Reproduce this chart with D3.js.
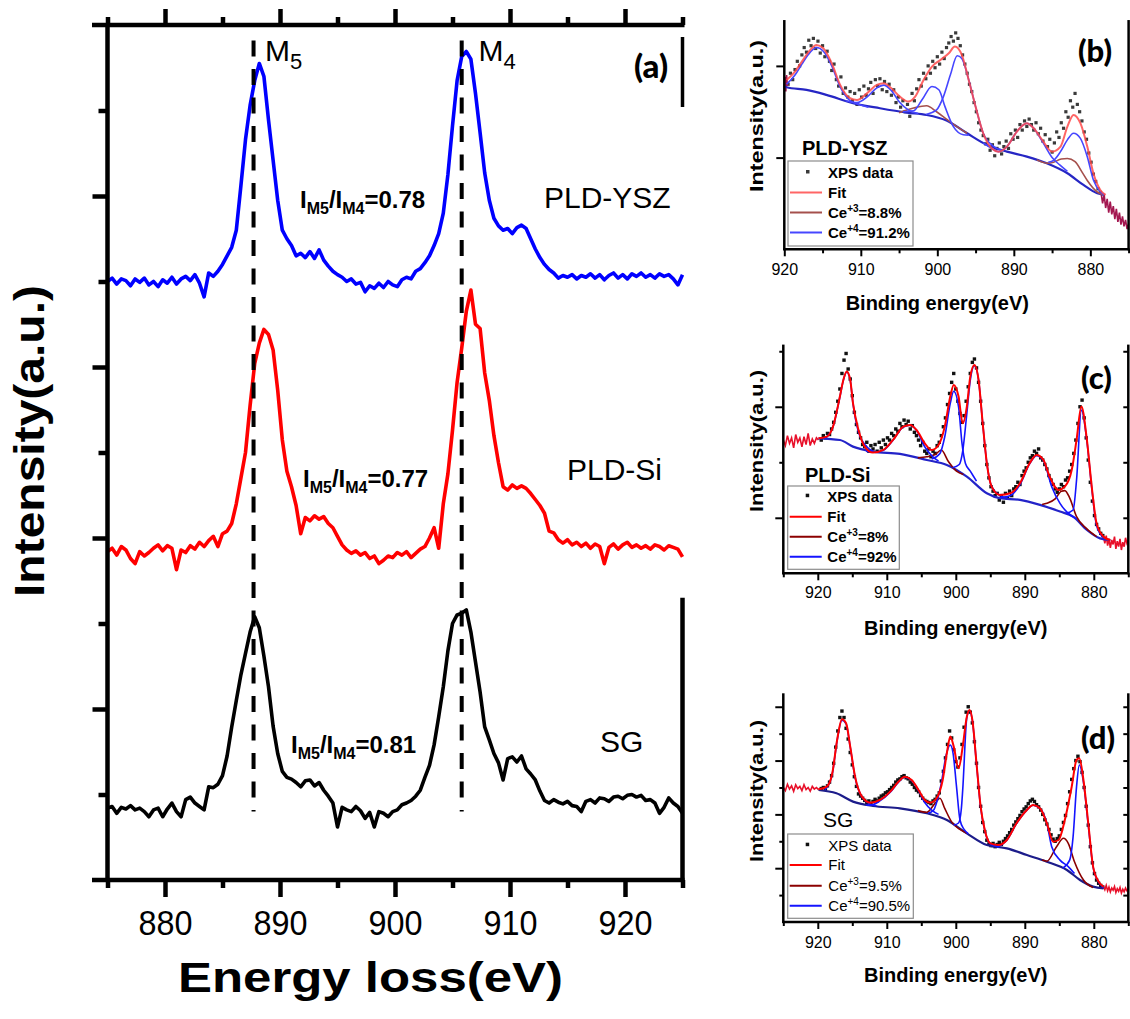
<!DOCTYPE html>
<html><head><meta charset="utf-8">
<script src="https://cdn.jsdelivr.net/npm/d3@7"></script>
<style>body{margin:0;background:#fff}svg{display:block}</style>
</head><body>
<svg id="c" width="1130" height="1019"></svg>
<script>
// ================= DATA =================
// Panel (a): EELS Ce M4,5 edges
const eelsEnergy = [875,875.4,875.8,876.2,876.6,877,877.4,877.8,878.2,878.6,879,879.4,879.8,880.2,880.6,881,881.4,881.8,882.2,882.6,883,883.4,883.8,884.2,884.6,885,885.4,885.8,886.2,886.6,887,887.4,887.8,888.2,888.6,889,889.4,889.8,890.2,890.6,891,891.4,891.8,892.2,892.6,893,893.4,893.8,894.2,894.6,895,895.4,895.8,896.2,896.6,897,897.4,897.8,898.2,898.6,899,899.4,899.8,900.2,900.6,901,901.4,901.8,902.2,902.6,903,903.4,903.8,904.2,904.6,905,905.4,905.8,906.2,906.6,907,907.4,907.8,908.2,908.6,909,909.4,909.8,910.2,910.6,911,911.4,911.8,912.2,912.6,913,913.4,913.8,914.2,914.6,915,915.4,915.8,916.2,916.6,917,917.4,917.8,918.2,918.6,919,919.4,919.8,920.2,920.6,921,921.4,921.8,922.2,922.6,923,923.4,923.8,924.2,924.6,925];
const eelsYSZ = [7.00,7.04,6.97,7.03,7.01,6.95,7.03,6.99,7.04,6.96,
7.00,6.94,7.02,6.98,7.05,6.97,7.03,7.06,7.01,7.08,
6.98,6.82,7.10,7.06,7.12,7.20,7.30,7.40,7.60,8.12,
8.66,9.06,9.35,9.55,9.40,8.89,8.42,7.95,7.60,7.50,
7.42,7.30,7.33,7.28,7.35,7.27,7.37,7.25,7.18,7.12,
7.08,7.05,7.00,7.03,6.97,6.99,6.88,6.95,6.92,6.98,
6.93,7.00,6.96,6.94,7.02,7.05,7.03,7.12,7.15,7.22,
7.30,7.42,7.56,7.80,8.25,8.82,9.35,9.63,9.69,9.60,
9.20,8.74,8.27,7.95,7.74,7.65,7.60,7.62,7.56,7.63,
7.66,7.62,7.50,7.38,7.28,7.20,7.14,7.10,7.04,7.07,
7.05,7.08,7.03,7.07,7.05,7.09,7.04,7.08,7.02,7.07,
7.10,7.04,7.08,7.03,7.09,7.06,7.10,7.05,7.08,7.04,
7.09,7.06,7.08,7.03,6.96,7.08];
const eelsSi = [3.84,3.88,3.80,3.90,3.86,3.76,3.70,3.84,3.79,3.83,
3.88,3.92,3.85,3.91,3.88,3.63,3.86,3.83,3.91,3.87,
3.95,3.90,3.97,4.02,3.90,4.05,4.08,4.17,4.40,4.70,
5.00,5.55,6.04,6.28,6.44,6.38,6.20,5.73,5.15,4.78,
4.60,4.38,4.05,4.24,4.20,4.26,4.22,4.25,4.17,4.12,
4.02,3.92,3.86,3.82,3.85,3.80,3.83,3.76,3.79,3.70,
3.74,3.79,3.77,3.83,3.80,3.84,3.77,3.82,3.87,3.90,
4.00,4.12,3.88,4.40,4.75,5.26,5.82,6.22,6.65,6.90,
6.50,6.45,5.93,5.61,5.20,4.88,4.60,4.56,4.62,4.58,
4.61,4.58,4.52,4.45,4.38,4.29,4.08,4.06,3.98,3.94,
3.98,3.92,3.95,3.90,3.94,3.88,3.93,3.90,3.70,3.89,
3.93,3.87,3.92,3.95,3.89,3.92,3.88,3.91,3.87,3.92,
3.90,3.86,3.91,3.89,3.87,3.78];
const eelsSG = [0.84,0.86,0.78,0.85,0.83,0.87,0.82,0.84,0.80,0.74,
0.82,0.84,0.74,0.83,0.90,0.80,0.74,0.94,0.97,0.90,
0.86,0.82,1.09,1.08,1.12,1.22,1.45,1.79,2.10,2.40,
2.65,2.90,3.08,2.95,2.62,2.26,1.80,1.48,1.27,1.20,
1.18,1.14,1.09,1.16,1.17,1.10,1.14,1.05,0.98,0.90,
0.62,0.85,0.82,0.80,0.86,0.81,0.72,0.79,0.62,0.80,
0.78,0.74,0.80,0.82,0.88,0.90,0.93,0.98,1.05,1.20,
1.34,1.58,1.91,2.26,2.68,3.00,3.10,3.12,3.16,2.90,
2.55,2.20,1.79,1.64,1.48,1.37,1.17,1.42,1.44,1.38,
1.45,1.30,1.24,1.17,1.04,0.93,0.90,0.94,0.91,0.89,
0.92,0.87,0.86,0.80,0.92,0.94,0.90,0.96,0.95,0.92,
0.97,0.98,0.95,0.99,1.00,0.97,0.99,0.93,0.94,0.90,
0.78,0.85,0.96,0.90,0.86,0.78];
const eelsSeriesNames = ["PLD-YSZ","PLD-Si","SG"];
const eelsRatios = ["0.78","0.77","0.81"];
const eelsTicks = [880,890,900,910,920];
const eelsMinorTicks = [875,885,895,905,915,925];
const peakLines = [887.7, 905.8];       // M5, M4 positions (eV)
const peakLineSpan = [0.80, 9.82];      // intensity extent of dashed markers

// Panel (b) PLD-YSZ XPS
const bBg = [[920,1.78],[919.7,1.767],[917.1,1.738],[914.5,1.684],[911,1.593],[907.5,1.538],[904,1.491],[901.4,1.465],[898.8,1.404],[896.1,1.265],[893.5,1.138],[890.9,1.065],[888.3,1.011],[885.7,0.938],[883,0.829],[880.9,0.702],[879.1,0.611],[878.2,0.593]];
const bFit = [[919.7,1.847],[918.6,1.938],[917.7,2.047],[916.6,2.175],[915.8,2.229],[914.9,2.193],[913.8,2.029],[912.7,1.793],[911.4,1.647],[910.5,1.629],[909.2,1.702],[907.9,1.793],[907,1.811],[906,1.756],[904.9,1.665],[903.8,1.611],[902.9,1.665],[901.8,1.847],[900.7,1.993],[899.6,2.065],[898.5,2.138],[897.7,2.211],[896.8,2.12],[895.9,1.847],[895,1.556],[894,1.265],[892.9,1.102],[892,1.065],[890.9,1.12],[889.6,1.284],[888.3,1.375],[887.4,1.32],[886.3,1.193],[885,1.065],[883.9,1.12],[883,1.338],[882.2,1.465],[881.3,1.375],[880.4,1.12],[879.6,0.829],[878.7,0.647],[878,0.593]];
const bCe4 = [
 [[919.7,1.80],[918.6,1.90],[917.7,2.02],[916.6,2.15],[915.8,2.20],[914.9,2.16],[913.8,2.00],[912.7,1.77],[911.4,1.62],[910.2,1.58],[909,1.55]],
 [[912,1.62],[910.5,1.60],[909.2,1.66],[907.9,1.76],[907,1.79],[906,1.73],[904.9,1.60],[903.8,1.52],[902.5,1.48]],
 [[904.5,1.50],[903.1,1.51],[902,1.63],[900.7,1.775],[899.8,1.74],[899,1.556],[897.9,1.338],[896.6,1.25],[895.9,1.245]],
 [[901.5,1.47],[900.1,1.52],[899.2,1.665],[898.3,1.90],[897.4,2.11],[896.8,2.08],[895.9,1.85],[895,1.556],[894,1.265],[892.6,1.12],[891.5,1.08]],
 [[894,1.16],[892.9,1.10],[892,1.065],[890.9,1.12],[889.6,1.284],[888.3,1.375],[887.4,1.32],[886.3,1.18],[885,1.0],[884,0.92],[883,0.85]],
 [[885.5,0.95],[884.8,0.97],[883.9,1.065],[883,1.193],[882.2,1.265],[881.3,1.21],[880.4,1.01],[879.6,0.756],[878.7,0.629],[878.2,0.595]]
];
const bCe3 = [
 [[905,1.49],[903.1,1.54],[901.4,1.565],[900.1,1.50],[898.8,1.42],[897.5,1.34],[896.1,1.265]],
 [[887,0.975],[885.7,0.94],[884.8,0.95],[883.8,0.985],[883,0.99],[882,0.955],[881,0.83],[880.4,0.75],[879.1,0.625],[878.2,0.593]]
];
const bDots = [[919.5,1.80],[919.2,1.92],[918.9,1.85],[918.6,1.96],[918.3,2.05],[918.0,2.00],[917.7,2.12],[917.4,2.20],[917.1,2.15],[916.8,2.28],[916.5,2.22],[916.2,2.30],[915.9,2.19],[915.6,2.27],[915.3,2.14],[915.0,2.22],[914.7,2.10],[914.4,2.16],[914.1,2.05],[913.8,1.95],[913.5,2.02],[913.2,1.85],[912.9,1.78],[912.6,1.88],[912.3,1.70],[912.0,1.76],[911.7,1.66],[911.4,1.72],[911.1,1.62],[910.8,1.70],[910.5,1.58],[910.2,1.74],[909.9,1.66],[909.6,1.78],[909.3,1.68],[909.0,1.75],[908.7,1.82],[908.4,1.70],[908.1,1.85],[907.8,1.78],[907.5,1.86],[907.2,1.74],[906.9,1.83],[906.6,1.72],[906.3,1.80],[906.0,1.68],[905.7,1.74],[905.4,1.60],[905.1,1.66],[904.8,1.55],[904.5,1.62],[904.2,1.50],[903.9,1.58],[903.6,1.45],[903.3,1.70],[903.0,1.62],[902.7,1.75],[902.4,1.85],[902.1,1.78],[901.8,1.92],[901.5,1.86],[901.2,2.00],[900.9,1.92],[900.6,2.05],[900.3,1.98],[900.0,2.10],[899.7,2.02],[899.4,2.15],[899.1,2.08],[898.8,2.20],[898.5,2.25],[898.2,2.32],[897.9,2.27],[897.6,2.36],[897.3,2.30],[897.0,2.22],[896.7,2.12],[896.4,2.02],[896.1,1.92],[895.8,1.80],[895.5,1.72],[895.2,1.60],[894.9,1.50],[894.6,1.38],[894.3,1.30],[894.0,1.24],[893.7,1.15],[893.4,1.20],[893.1,1.08],[892.8,1.14],[892.5,1.02],[892.2,1.10],[891.9,1.16],[891.6,1.04],[891.3,1.12],[891.0,1.18],[890.7,1.10],[890.4,1.26],[890.1,1.20],[889.8,1.30],[889.5,1.22],[889.2,1.36],[888.9,1.30],[888.6,1.40],[888.3,1.34],[888.0,1.42],[887.7,1.36],[887.4,1.30],[887.1,1.38],[886.8,1.26],[886.5,1.32],[886.2,1.18],[885.9,1.25],[885.6,1.12],[885.3,1.20],[885.0,1.06],[884.7,1.16],[884.4,1.28],[884.1,1.22],[883.8,1.38],[883.5,1.32],[883.2,1.50],[882.9,1.44],[882.6,1.62],[882.3,1.55],[882.0,1.70],[881.7,1.58],[881.4,1.50],[881.1,1.40],[880.8,1.28],[880.5,1.20],[880.2,1.05],[879.9,0.95],[879.6,0.82],[879.3,0.74],[879.0,0.66],[878.7,0.62]];
const bTails = [
 [[920.0,1.75],[919.9,1.88],[919.8,1.72],[919.7,1.90],[919.6,1.78]],
 [[878.6,0.62],[878.4,0.50],[878.2,0.60],[878.0,0.45],[877.8,0.55],[877.6,0.40],[877.4,0.52],[877.2,0.38],[877.0,0.47],[876.8,0.33],[876.6,0.44],[876.4,0.30],[876.2,0.40],[876.0,0.27],[875.8,0.36],[875.6,0.25],[875.4,0.32],[875.2,0.22],[875.0,0.28]]
];
const bLegend = ["XPS data","Fit","Ce|+3|=8.8%","Ce|+4|=91.2%"];

// Panel (c) PLD-Si XPS
const cBg = [[919.9,1.216],[916.8,1.201],[914.9,1.141],[912,1.096],[908.1,1.075],[904.2,1.021],[901.3,0.976],[898.4,0.871],[895.5,0.721],[893.6,0.676],[890.7,0.661],[887.8,0.616],[884.9,0.556],[883,0.511],[881,0.39],[879.1,0.315],[877.6,0.30]];
const cFit = [[919.9,1.216],[918.7,1.231],[917.8,1.321],[916.8,1.592],[916.3,1.742],[915.8,1.817],[915.3,1.742],[914.9,1.532],[914.1,1.291],[913.2,1.141],[912,1.087],[910.5,1.111],[909.1,1.201],[907.6,1.321],[906.6,1.336],[905.7,1.291],[904.5,1.171],[903.5,1.111],[902.5,1.156],[901.6,1.321],[900.8,1.592],[900.3,1.697],[899.6,1.592],[899,1.351],[898.4,1.502],[897.9,1.772],[897.3,1.877],[896.7,1.742],[896.1,1.351],[895.5,0.991],[894.8,0.781],[893.6,0.706],[892.1,0.721],[890.7,0.811],[889.3,0.991],[888.3,1.066],[887.3,1.021],[886.4,0.871],[885.1,0.751],[884.2,0.781],[883.2,0.931],[882.5,1.201],[881.8,1.502],[881,1.201],[880.3,0.781],[879.6,0.45],[878.6,0.33],[877.6,0.30]];
const cCe4 = [
 [[919,1.215],[918.7,1.228],[917.8,1.318],[916.8,1.588],[916.3,1.738],[915.8,1.813],[915.3,1.738],[914.9,1.528],[914.1,1.27],[913.2,1.16],[912,1.10]],
 [[913,1.10],[912,1.09],[910.5,1.108],[909.1,1.198],[907.6,1.318],[906.6,1.333],[905.7,1.288],[904.5,1.14],[903.5,1.06],[902.5,1.01]],
 [[903.5,1.03],[902.3,1.08],[901.6,1.23],[900.8,1.53],[900.3,1.64],[899.6,1.50],[899.1,1.17],[898.6,0.99],[897.9,0.92],[897,0.83]],
 [[900.5,0.95],[899.5,0.98],[899,1.10],[898.4,1.44],[897.9,1.74],[897.3,1.87],[896.7,1.74],[896.1,1.35],[895.5,0.99],[894.8,0.78],[893.6,0.70],[892.5,0.68]],
 [[893.6,0.68],[892.1,0.70],[890.7,0.80],[889.3,0.985],[888.3,1.06],[887.3,1.015],[886.1,0.78],[884.9,0.63],[883.7,0.54],[882.5,0.49]],
 [[884,0.54],[883,0.57],[882.5,0.84],[881.8,1.47],[881,1.19],[880.3,0.77],[879.6,0.43],[878.6,0.32]]
];
const cCe3 = [
 [[905.5,1.04],[904.2,1.05],[903,1.07],[902.1,1.11],[901.1,1.01],[899.9,0.92],[898.9,0.89]],
 [[887.5,0.62],[886.8,0.63],[885.6,0.67],[884.7,0.74],[884.2,0.745],[883.5,0.68],[882.5,0.51],[881,0.40],[879.6,0.33]]
];
const cDots = [[919.5,1.20],[919.2,1.24],[918.9,1.22],[918.6,1.26],[918.3,1.25],[918.0,1.30],[917.7,1.36],[917.4,1.45],[917.1,1.55],[916.8,1.66],[916.5,1.80],[916.2,1.92],[915.9,1.98],[915.6,1.84],[915.3,1.75],[915.0,1.60],[914.7,1.45],[914.4,1.34],[914.1,1.27],[913.8,1.22],[913.5,1.16],[913.2,1.14],[912.9,1.18],[912.6,1.10],[912.3,1.15],[912.0,1.12],[911.7,1.16],[911.4,1.10],[911.1,1.18],[910.8,1.13],[910.5,1.20],[910.2,1.16],[909.9,1.22],[909.6,1.20],[909.3,1.26],[909.0,1.24],[908.7,1.30],[908.4,1.28],[908.1,1.35],[907.8,1.32],[907.5,1.38],[907.2,1.34],[906.9,1.37],[906.6,1.30],[906.3,1.33],[906.0,1.27],[905.7,1.24],[905.4,1.20],[905.1,1.15],[904.8,1.18],[904.5,1.10],[904.2,1.08],[903.9,1.12],[903.6,1.05],[903.3,1.10],[903.0,1.08],[902.7,1.15],[902.4,1.18],[902.1,1.24],[901.8,1.32],[901.5,1.40],[901.2,1.52],[900.9,1.62],[900.6,1.72],[900.3,1.80],[900.0,1.66],[899.7,1.55],[899.4,1.44],[899.1,1.36],[898.8,1.42],[898.5,1.55],[898.2,1.68],[897.9,1.80],[897.6,1.90],[897.3,1.93],[897.0,1.85],[896.7,1.72],[896.4,1.55],[896.1,1.35],[895.8,1.15],[895.5,0.98],[895.2,0.86],[894.9,0.78],[894.6,0.74],[894.3,0.70],[894.0,0.72],[893.7,0.66],[893.4,0.70],[893.1,0.64],[892.8,0.72],[892.5,0.68],[892.2,0.74],[891.9,0.70],[891.6,0.76],[891.3,0.78],[891.0,0.82],[890.7,0.80],[890.4,0.88],[890.1,0.92],[889.8,0.95],[889.5,1.00],[889.2,1.04],[888.9,1.06],[888.6,1.10],[888.3,1.08],[888.0,1.12],[887.7,1.04],[887.4,1.02],[887.1,0.98],[886.8,0.94],[886.5,0.88],[886.2,0.84],[885.9,0.80],[885.6,0.76],[885.3,0.73],[885.0,0.76],[884.7,0.80],[884.4,0.78],[884.1,0.84],[883.8,0.86],[883.5,0.92],[883.2,0.98],[882.9,1.08],[882.6,1.20],[882.3,1.35],[882.0,1.50],[881.7,1.56],[881.4,1.40],[881.1,1.22],[880.8,1.02],[880.5,0.82],[880.2,0.65],[879.9,0.52],[879.6,0.44],[879.3,0.40],[879.0,0.36],[878.7,0.34]];
const cTails = [
 [[925.0,1.20],[924.7,1.15],[924.4,1.24],[924.1,1.17],[923.8,1.22],[923.5,1.13],[923.2,1.25],[922.9,1.18],[922.6,1.22],[922.3,1.14],[922.0,1.23],[921.7,1.16],[921.4,1.26],[921.1,1.15],[920.8,1.21],[920.5,1.17],[920.2,1.22],[919.9,1.20]],
 [[878.6,0.33],[878.4,0.27],[878.2,0.34],[878.0,0.25],[877.8,0.31],[877.6,0.23],[877.4,0.30],[877.2,0.26],[877.0,0.33],[876.8,0.22],[876.6,0.29],[876.4,0.24],[876.2,0.31],[876.0,0.21],[875.8,0.28],[875.6,0.24],[875.4,0.32],[875.2,0.27],[875.0,0.30]]
];
const cLegend = ["XPS data","Fit","Ce|+3|=8%","Ce|+4|=92%"];

// Panel (d) SG XPS
const dBg = [[919.9,2.453],[917.3,2.392],[914.9,2.237],[912,2.156],[908.1,2.113],[904.2,2.02],[901.3,1.896],[898.4,1.648],[895.5,1.431],[892.6,1.369],[889.7,1.245],[886.8,1.121],[883.9,0.967],[882,0.781],[880.1,0.657],[878.6,0.626]];
const dFit = [[919.9,2.466],[918.7,2.515],[917.9,2.763],[917.2,3.383],[916.5,3.767],[915.9,3.693],[915.3,3.259],[914.6,2.701],[913.6,2.33],[912.4,2.218],[911,2.268],[909.5,2.423],[908.3,2.608],[907.4,2.701],[906.4,2.639],[905.4,2.454],[904.5,2.268],[903.7,2.218],[902.8,2.299],[901.9,2.639],[901.3,3.135],[900.8,3.445],[900.3,3.259],[899.6,2.856],[899,3.259],[898.4,3.817],[898,3.941],[897.6,3.755],[897,2.949],[896.4,2.144],[895.8,1.71],[895,1.462],[893.8,1.431],[892.6,1.524],[891.2,1.834],[889.7,2.082],[888.8,2.175],[887.8,2.113],[886.8,1.834],[885.9,1.493],[885.1,1.524],[884.2,1.896],[883.2,2.515],[882.5,3.011],[882.1,3.042],[881.5,2.639],[880.8,1.834],[880.1,1.029],[879.3,0.75],[878.6,0.657]];
const dCe4 = [
 [[919,2.46],[918.7,2.50],[917.9,2.75],[917.2,3.37],[916.5,3.75],[915.9,3.68],[915.3,3.25],[914.6,2.69],[913.6,2.32],[912.4,2.19],[911.5,2.16]],
 [[913,2.17],[912.4,2.17],[911,2.25],[909.5,2.41],[908.3,2.60],[907.4,2.69],[906.4,2.63],[905.4,2.44],[904.5,2.22],[903.5,2.08],[902.5,2.0]],
 [[904,2.02],[903.2,2.08],[902.8,2.21],[902.1,2.58],[901.4,3.10],[900.8,3.29],[900.4,3.14],[899.9,2.52],[899.4,1.90],[898.8,1.72],[898.2,1.64]],
 [[900.3,1.80],[899.6,1.84],[899.2,2.10],[899,2.45],[898.4,3.80],[898,3.93],[897.6,3.74],[897,2.94],[896.4,2.13],[895.8,1.70],[895,1.45],[893.8,1.40]],
 [[894,1.39],[892.6,1.52],[891.2,1.83],[889.7,2.08],[888.8,2.17],[887.8,2.11],[886.8,1.83],[886.1,1.40],[884.9,1.15],[883.7,1.03],[882.8,0.90]],
 [[884.5,1.0],[883.5,1.15],[883,1.586],[882.5,2.515],[882.1,2.918],[881.5,2.60],[880.8,1.80],[880.1,1.02],[879.3,0.74],[878.6,0.64]]
];
const dCe3 = [
 [[905.5,2.07],[904.2,2.04],[903,2.21],[902.3,2.30],[901.6,2.11],[900.6,1.86],[899.4,1.72],[898.4,1.65]],
 [[887.5,1.15],[886.8,1.13],[885.4,1.40],[884.4,1.555],[883.7,1.462],[882.8,1.12],[881.5,0.78],[880.1,0.64]]
];
const dDots = [[919.5,2.48],[919.2,2.50],[918.9,2.47],[918.6,2.53],[918.3,2.60],[918.0,2.72],[917.7,2.95],[917.4,3.25],[917.1,3.55],[916.8,3.80],[916.5,3.92],[916.2,3.80],[915.9,3.60],[915.6,3.40],[915.3,3.15],[915.0,2.92],[914.7,2.70],[914.4,2.52],[914.1,2.38],[913.8,2.34],[913.5,2.30],[913.2,2.26],[912.9,2.22],[912.6,2.25],[912.3,2.20],[912.0,2.24],[911.7,2.28],[911.4,2.25],[911.1,2.30],[910.8,2.34],[910.5,2.36],[910.2,2.40],[909.9,2.42],[909.6,2.46],[909.3,2.50],[909.0,2.54],[908.7,2.60],[908.4,2.64],[908.1,2.66],[907.8,2.70],[907.5,2.72],[907.2,2.68],[906.9,2.66],[906.6,2.60],[906.3,2.56],[906.0,2.50],[905.7,2.45],[905.4,2.42],[905.1,2.35],[904.8,2.30],[904.5,2.26],[904.2,2.24],[903.9,2.22],[903.6,2.20],[903.3,2.25],[903.0,2.28],[902.7,2.34],[902.4,2.40],[902.1,2.62],[901.8,2.80],[901.5,3.05],[901.2,3.30],[900.9,3.55],[900.6,3.42],[900.3,3.20],[900.0,2.98],[899.7,2.88],[899.4,3.05],[899.1,3.30],[898.8,3.62],[898.5,3.90],[898.2,4.00],[897.9,3.90],[897.6,3.70],[897.3,3.35],[897.0,2.95],[896.7,2.50],[896.4,2.15],[896.1,1.85],[895.8,1.68],[895.5,1.52],[895.2,1.45],[894.9,1.42],[894.6,1.46],[894.3,1.40],[894.0,1.44],[893.7,1.48],[893.4,1.44],[893.1,1.50],[892.8,1.55],[892.5,1.60],[892.2,1.66],[891.9,1.72],[891.6,1.80],[891.3,1.86],[891.0,1.92],[890.7,1.98],[890.4,2.05],[890.1,2.10],[889.8,2.14],[889.5,2.20],[889.2,2.25],[888.9,2.28],[888.6,2.24],[888.3,2.18],[888.0,2.14],[887.7,2.08],[887.4,2.00],[887.1,1.90],[886.8,1.82],[886.5,1.72],[886.2,1.62],[885.9,1.54],[885.6,1.50],[885.3,1.55],[885.0,1.60],[884.7,1.72],[884.4,1.85],[884.1,1.98],[883.8,2.20],[883.5,2.42],[883.2,2.65],[882.9,2.85],[882.6,3.00],[882.3,3.08],[882.0,2.98],[881.7,2.78],[881.4,2.50],[881.1,2.15],[880.8,1.80],[880.5,1.40],[880.2,1.10],[879.9,0.90],[879.6,0.78],[879.3,0.72],[879.0,0.68],[878.7,0.65]];
const dTails = [
 [[925.0,2.50],[924.7,2.44],[924.4,2.56],[924.1,2.47],[923.8,2.53],[923.5,2.43],[923.2,2.55],[922.9,2.48],[922.6,2.52],[922.3,2.44],[922.0,2.55],[921.7,2.46],[921.4,2.50],[921.1,2.43],[920.8,2.52],[920.5,2.47],[920.2,2.50],[919.9,2.46]],
 [[878.6,0.66],[878.4,0.60],[878.2,0.68],[878.0,0.58],[877.8,0.65],[877.6,0.56],[877.4,0.63],[877.2,0.59],[877.0,0.66],[876.8,0.55],[876.6,0.62],[876.4,0.57],[876.2,0.64],[876.0,0.54],[875.8,0.61],[875.6,0.56],[875.4,0.63],[875.2,0.58],[875.0,0.60]]
];
const dLegend = ["XPS data","Fit","Ce|+3|=9.5%","Ce|+4|=90.5%"];
const xpsTicks = [920,910,900,890,880];

// ================= DRAWING =================
const SANS = "'Liberation Sans', Arial, Helvetica, sans-serif";
const LETTER = "Lato, 'Open Sans', sans-serif";
const svg = d3.select("#c");

// ---------- Panel (a) ----------
const ax = d3.scaleLinear().domain([875, 925]).range([107.5, 682.5]);
const ay = d3.scaleLinear().domain([0, 10]).range([880, 25]);
const ga = svg.append("g");
const colorsA = ["#0000ff", "#ff0000", "#000000"];
const lineA = d3.line().x((d, i) => ax(eelsEnergy[i])).y(d => ay(d));
[eelsYSZ, eelsSi, eelsSG].forEach((s, k) => {
  ga.append("path").attr("d", lineA(s)).attr("fill", "none")
    .attr("stroke", colorsA[k]).attr("stroke-width", 3.6).attr("stroke-linejoin", "round");
});
peakLines.forEach(e => {
  ga.append("line").attr("x1", ax(e)).attr("x2", ax(e))
    .attr("y1", ay(peakLineSpan[1])).attr("y2", ay(peakLineSpan[0]))
    .attr("stroke", "#000").attr("stroke-width", 4).attr("stroke-dasharray", "16,12.5");
});
// axes frame
const AW = 4.5;
ga.append("line").attr("x1", ax(875)).attr("x2", ax(875)).attr("y1", ay(10) - 2).attr("y2", ay(0) + 2).attr("stroke", "#000").attr("stroke-width", AW);
ga.append("line").attr("x1", 92).attr("x2", ax(925) + 2).attr("y1", ay(10)).attr("y2", ay(10)).attr("stroke", "#000").attr("stroke-width", AW);
ga.append("line").attr("x1", 92).attr("x2", ax(925) + 2).attr("y1", ay(0)).attr("y2", ay(0)).attr("stroke", "#000").attr("stroke-width", AW);
ga.append("line").attr("x1", ax(925)).attr("x2", ax(925)).attr("y1", 37).attr("y2", 107).attr("stroke", "#000").attr("stroke-width", 3.5);
ga.append("line").attr("x1", ax(925)).attr("x2", ax(925)).attr("y1", ay(3.3)).attr("y2", ay(0)).attr("stroke", "#000").attr("stroke-width", AW);

function styleAxis(g, w) {
  g.select(".domain").remove();
  g.selectAll(".tick line").attr("stroke", "#000").attr("stroke-width", w);
}
const bottomA = ga.append("g").attr("transform", `translate(0,${ay(0)})`)
  .call(d3.axisBottom(ax).tickValues(eelsTicks).tickSize(17).tickPadding(13).tickSizeOuter(0));
styleAxis(bottomA, AW);
bottomA.selectAll(".tick text").attr("font-family", SANS).attr("font-size", 35).attr("fill", "#000")
  .attr("textLength", 54).attr("lengthAdjust", "spacingAndGlyphs");
styleAxis(ga.append("g").attr("transform", `translate(0,${ay(0)})`)
  .call(d3.axisBottom(ax).tickValues(eelsMinorTicks).tickSize(8).tickFormat("")), AW);
styleAxis(ga.append("g").attr("transform", `translate(0,${ay(10)})`)
  .call(d3.axisTop(ax).tickValues(eelsTicks).tickSize(16).tickFormat("")), AW);
styleAxis(ga.append("g").attr("transform", `translate(0,${ay(10)})`)
  .call(d3.axisTop(ax).tickValues(eelsMinorTicks).tickSize(8).tickFormat("")), AW);
styleAxis(ga.append("g").attr("transform", `translate(${ax(875)},0)`)
  .call(d3.axisLeft(ay).tickValues([2, 4, 6, 8]).tickSize(15).tickFormat("")), AW);
styleAxis(ga.append("g").attr("transform", `translate(${ax(875)},0)`)
  .call(d3.axisLeft(ay).tickValues([1, 3, 5, 7, 9]).tickSize(9).tickFormat("")), AW);

// axis titles
ga.append("text").attr("x", 370.5).attr("y", 992).attr("text-anchor", "middle")
  .attr("font-family", SANS).attr("font-weight", "bold").attr("font-size", 42)
  .attr("textLength", 385).attr("lengthAdjust", "spacingAndGlyphs").text("Energy loss(eV)");
ga.append("text").attr("transform", "translate(44,441) rotate(-90)").attr("text-anchor", "middle")
  .attr("font-family", SANS).attr("font-weight", "bold").attr("font-size", 42)
  .attr("textLength", 312).attr("lengthAdjust", "spacingAndGlyphs").text("Intensity(a.u.)");

// M5 / M4 labels
[["M", "5", 265], ["M", "4", 478.5]].forEach(([m, s, x]) => {
  const t = ga.append("text").attr("x", x).attr("y", 61).attr("font-family", SANS).attr("font-size", 30);
  t.append("tspan").text(m);
  t.append("tspan").attr("font-size", 22).attr("dy", 8).text(s);
});
ga.append("text").attr("x", 634).attr("y", 78).attr("font-family", LETTER).attr("font-weight", "900")
  .attr("font-size", 33).text("(a)");

// ratio labels and sample names
const ratioPos = [[300, 208], [303, 487], [291, 753]];
const namePos = [[544, 208], [567, 480], [600, 752]];
eelsSeriesNames.forEach((n, k) => {
  const t = ga.append("text").attr("x", ratioPos[k][0]).attr("y", ratioPos[k][1])
    .attr("font-family", SANS).attr("font-weight", "bold").attr("font-size", 24);
  t.append("tspan").text("I");
  t.append("tspan").attr("font-size", 16).attr("dy", 6).text("M5");
  t.append("tspan").attr("dy", -6).text("/I");
  t.append("tspan").attr("font-size", 16).attr("dy", 6).text("M4");
  t.append("tspan").attr("dy", -6).text("=" + eelsRatios[k]);
  ga.append("text").attr("x", namePos[k][0]).attr("y", namePos[k][1])
    .attr("font-family", SANS).attr("font-size", 30).text(n);
});

// ---------- XPS panels ----------
function drawXps(p) {
  const x = d3.scaleLinear().domain(p.xDomain).range(p.xRange);
  const y = d3.scaleLinear().domain(p.yDomain).range(p.yRange);
  const g = svg.append("g");
  const lin = d3.line().x(d => x(d[0])).y(d => y(d[1]));
  const smooth = d3.line().x(d => x(d[0])).y(d => y(d[1])).curve(d3.curveMonotoneX);
  const [xl, xr] = p.xRange, [yb, yt] = p.yRange;

  g.selectAll("rect.dot").data(p.dots).join("rect").attr("class", "dot")
    .attr("x", d => x(d[0]) - p.ds / 2).attr("y", d => y(d[1]) - p.ds / 2)
    .attr("width", p.ds).attr("height", p.ds).attr("fill", p.dotColor);
  p.tails.forEach(t => g.append("path").attr("d", lin(t)).attr("fill", "none")
    .attr("stroke", p.tailColor).attr("stroke-width", 1.6));
  g.append("path").attr("d", smooth(p.bg)).attr("fill", "none").attr("stroke", p.bgColor).attr("stroke-width", 2.2);
  p.ce3.forEach(c => g.append("path").attr("d", smooth(c)).attr("fill", "none").attr("stroke", p.ce3Color).attr("stroke-width", 1.6));
  p.ce4.forEach(c => g.append("path").attr("d", smooth(c)).attr("fill", "none").attr("stroke", p.ce4Color).attr("stroke-width", 1.6));
  g.append("path").attr("d", smooth(p.fit)).attr("fill", "none").attr("stroke", p.fitColor)
    .attr("stroke-width", 2).attr("stroke-opacity", p.fitOpacity);

  // frame
  const W = 2.5;
  g.append("line").attr("x1", xl).attr("x2", xl).attr("y1", yt).attr("y2", yb + 1).attr("stroke", "#000").attr("stroke-width", W);
  g.append("line").attr("x1", xl - 1).attr("x2", xr + 1).attr("y1", yb).attr("y2", yb).attr("stroke", "#000").attr("stroke-width", W);
  g.append("line").attr("x1", xr).attr("x2", xr).attr("y1", yt).attr("y2", yb + 1).attr("stroke", "#000").attr("stroke-width", W);

  const bx = g.append("g").attr("transform", `translate(0,${yb})`)
    .call(d3.axisBottom(x).tickValues(xpsTicks).tickSize(7).tickPadding(p.tickPad).tickSizeOuter(0));
  styleAxis(bx, 2);
  bx.selectAll(".tick text").attr("font-family", SANS).attr("font-size", 16).attr("fill", "#000");
  styleAxis(g.append("g").attr("transform", `translate(0,${yb})`)
    .call(d3.axisBottom(x).tickValues(p.xMinor).tickSize(4).tickFormat("")), 2);
  styleAxis(g.append("g").attr("transform", `translate(${xl},0)`)
    .call(d3.axisLeft(y).tickValues(p.yMajor).tickSize(8).tickFormat("")), 2);
  if (p.yMinor.length) styleAxis(g.append("g").attr("transform", `translate(${xl},0)`)
    .call(d3.axisLeft(y).tickValues(p.yMinor).tickSize(4).tickFormat("")), 2);
  if (p.rightTicks) {
    styleAxis(g.append("g").attr("transform", `translate(${xr},0)`)
      .call(d3.axisLeft(y).tickValues(p.yMajor.concat(p.yMinor)).tickSize(5).tickFormat("")), 2);
  }

  g.append("text").attr("x", (x(920) + x(880)) / 2 + p.titleShift).attr("y", p.xTitleY).attr("text-anchor", "middle")
    .attr("font-family", SANS).attr("font-weight", "bold").attr("font-size", 20).text("Binding energy(eV)");
  g.append("text").attr("transform", `translate(763,${p.yTitle[0]}) rotate(-90)`).attr("text-anchor", "middle")
    .attr("font-family", SANS).attr("font-weight", "bold").attr("font-size", 18)
    .attr("textLength", p.yTitle[1]).attr("lengthAdjust", "spacingAndGlyphs").text("Intensity(a.u.)");
  g.append("text").attr("x", p.letter[1]).attr("y", p.letter[2]).attr("font-family", LETTER)
    .attr("font-weight", "900").attr("font-size", 31).text(p.letter[0]);
  g.append("text").attr("x", p.name[1]).attr("y", p.name[2]).attr("font-family", SANS)
    .attr("font-weight", p.name[4]).attr("font-size", p.name[3]).text(p.name[0]);

  // legend
  const L = p.legend;
  g.append("rect").attr("x", L.x).attr("y", L.y).attr("width", L.w).attr("height", L.h)
    .attr("fill", "#fff").attr("stroke", "#8c8c8c").attr("stroke-width", 1.2);
  const cols = [null, p.fitColor, p.ce3Color, p.ce4Color];
  p.legendText.forEach((txt, i) => {
    const by = L.rows[i];
    if (i === 0) {
      g.append("rect").attr("x", L.x + 18).attr("y", by - 8).attr("width", 3.5).attr("height", 3.5).attr("fill", p.dotColor);
    } else {
      g.append("line").attr("x1", L.x + 2).attr("x2", L.x + 34).attr("y1", by - 5).attr("y2", by - 5)
        .attr("stroke", cols[i]).attr("stroke-width", 2).attr("stroke-opacity", i === 1 ? p.fitOpacity : 1);
    }
    const parts = txt.split("|");
    const t = g.append("text").attr("x", L.tx).attr("y", by).attr("font-family", SANS)
      .attr("font-weight", L.weight).attr("font-size", 15);
    t.append("tspan").text(parts[0]);
    if (parts.length > 1) {
      t.append("tspan").attr("font-size", 10).attr("dy", -6).text(parts[1]);
      t.append("tspan").attr("dy", 6).text(parts[2]);
    }
  });
}

drawXps({
  xDomain: [920, 875], xRange: [784.3, 1128.6], yDomain: [0, 2.5], yRange: [249.3, 20.05],
  dots: bDots, ds: 3.2, dotColor: "#3a3a3a", tails: bTails, tailColor: "#a3164f",
  bg: bBg, bgColor: "#2626c4", ce3: bCe3, ce3Color: "#a5504c", ce4: bCe4, ce4Color: "#4646ff",
  fit: bFit, fitColor: "#ff4a4a", fitOpacity: 0.85,
  tickPad: 7, xMinor: [915, 905, 895, 885, 875], yMajor: [1, 2], yMinor: [], rightTicks: false,
  xTitleY: 310, titleShift: 0, yTitle: [116, 152], letter: ["(b)", 1078, 62],
  name: ["PLD-YSZ", 802, 155, 20, "bold"],
  legend: { x: 788, y: 161, w: 125, h: 85, rows: [178, 197.5, 217.5, 237.5], tx: 828, weight: "bold" },
  legendText: bLegend
});
drawXps({
  xDomain: [925, 875], xRange: [783.3, 1128.3], yDomain: [0, 2.06], yRange: [573.3, 344.6],
  dots: cDots, ds: 3.4, dotColor: "#111", tails: cTails, tailColor: "#e8102a",
  bg: cBg, bgColor: "#2323c8", ce3: cCe3, ce3Color: "#8b0000", ce4: cCe4, ce4Color: "#1414ff",
  fit: cFit, fitColor: "#ff0000", fitOpacity: 1,
  tickPad: 6.4, xMinor: [925, 915, 905, 895, 885, 875], yMajor: [0.5, 1.5], yMinor: [1, 2], rightTicks: true,
  xTitleY: 635, titleShift: 0, yTitle: [441, 142], letter: ["(c)", 1081, 389],
  name: ["PLD-Si", 805, 481.7, 20, "bold"],
  legend: { x: 787.7, y: 486, w: 111.6, h: 83.3, rows: [501.7, 521.7, 541.7, 561.7], tx: 827.3, weight: "bold" },
  legendText: cLegend
});
drawXps({
  xDomain: [925, 875], xRange: [783.3, 1128.3], yDomain: [0, 4.25], yRange: [922, 693.3],
  dots: dDots, ds: 3.4, dotColor: "#111", tails: dTails, tailColor: "#e8102a",
  bg: dBg, bgColor: "#1c1c8a", ce3: dCe3, ce3Color: "#8b0000", ce4: dCe4, ce4Color: "#1414ff",
  fit: dFit, fitColor: "#ff0000", fitOpacity: 1,
  tickPad: 8, xMinor: [925, 915, 905, 895, 885, 875], yMajor: [1, 2, 3, 4], yMinor: [0.5, 1.5, 2.5, 3.5], rightTicks: true,
  xTitleY: 981.7, titleShift: 0, yTitle: [791, 142], letter: ["(d)", 1081, 749],
  name: ["SG", 823, 826.7, 21, "normal"],
  legend: { x: 787.7, y: 834, w: 125.6, h: 84.3, rows: [850.7, 870, 890.7, 910.7], tx: 828.3, weight: "normal" },
  legendText: dLegend
});
</script>
</body></html>
